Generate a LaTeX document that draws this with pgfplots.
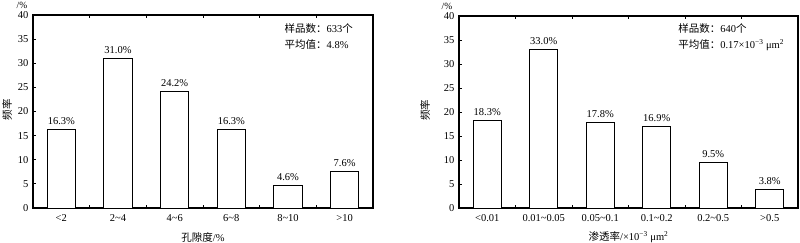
\documentclass[border=0pt]{standalone}
\usepackage{pgfplots}
\pgfplotsset{compat=1.18}
\usepackage{fontspec}
\setmainfont{Liberation Serif}
\newfontfamily\cjk{Noto Sans CJK SC}
\begin{document}
\begin{tikzpicture}[x=1pt,y=1pt]
\useasboundingbox (0,0) rectangle (800,242);
\pgfplotsset{
  hist/.style={
    scale only axis, width=340pt, height=193pt,
    ybar, bar width=0.5, bar shift=0pt,
    xmin=-0.5, xmax=5.5, ymin=0, ymax=40,
    ytick={0,5,...,40},
    xtick={0,...,5}, major x tick style={draw=none},
    minor xtick={0.5,1.5,2.5,3.5,4.5},
    minor tick length=3pt, major tick length=3pt,
    tick align=inside, ytick pos=left,
    axis line style={line width=1.1pt},
    tick style={line width=0.8pt, black},
    /pgf/number format/assume math mode=true,
    tick label style={font=\fontsize{10.5}{12}\selectfont},
    xticklabel style={yshift=-3pt},
    yticklabel style={xshift=-1pt},
    point meta=explicit symbolic,
    nodes near coords={\pgfplotspointmeta},
    every node near coord/.style={font=\fontsize{10.5}{12}\selectfont, black, yshift=1pt},
    clip=false,
  }
}
% Left chart
\begin{axis}[hist, at={(33pt,34pt)}, anchor=south west,
  xticklabels={<2, 2\textasciitilde 4, 4\textasciitilde 6, 6\textasciitilde 8, 8\textasciitilde 10, >10}]
\addplot[draw=black, fill=white, line width=0.9pt] table[meta=lab] {
x y lab
0 16.3 16.3\%
1 31.0 31.0\%
2 24.2 24.2\%
3 16.3 16.3\%
4 4.6 4.6\%
5 7.6 7.6\%
};
\node[anchor=west, font=\fontsize{10.5}{12}\selectfont] at (axis cs:3.88,37.1) {{\cjk 样品数：}633{\cjk 个}};
\node[anchor=west, font=\fontsize{10.5}{12}\selectfont] at (axis cs:3.88,33.8) {{\cjk 平均值：}4.8\%};
\node[rotate=90, font=\cjk\fontsize{10.5}{12}\selectfont] at ([xshift=-26pt]rel axis cs:0,0.51) {频率};
\node[font=\fontsize{9.5}{10}\selectfont] at ([xshift=-11pt,yshift=10pt]rel axis cs:0,1) {/\%};
\node[font=\fontsize{10.5}{12}\selectfont] at ([yshift=-29pt]rel axis cs:0.5,0) {{\cjk 孔隙度}/\%};
\end{axis}
% Right chart
\begin{axis}[hist, at={(459pt,34pt)}, anchor=south west, width=339pt, height=192pt,
  xticklabels={<0.01, 0.01\textasciitilde 0.05, 0.05\textasciitilde 0.1, 0.1\textasciitilde 0.2, 0.2\textasciitilde 0.5, >0.5}]
\addplot[draw=black, fill=white, line width=0.9pt] table[meta=lab] {
x y lab
0 18.3 18.3\%
1 33.0 33.0\%
2 17.8 17.8\%
3 16.9 16.9\%
4 9.5 9.5\%
5 3.8 3.8\%
};
\node[anchor=west, font=\fontsize{10.5}{12}\selectfont] at (axis cs:3.32,37.3) {{\cjk 样品数：}640{\cjk 个}};
\node[anchor=west, font=\fontsize{10.5}{12}\selectfont] at (axis cs:3.32,34.0) {{\cjk 平均值：}0.17×10\textsuperscript{−3} μm\textsuperscript{2}};
\node[rotate=90, font=\cjk\fontsize{10.5}{12}\selectfont] at ([xshift=-34pt]rel axis cs:0,0.51) {频率};
\node[font=\fontsize{9.5}{10}\selectfont] at ([xshift=-12pt,yshift=10pt]rel axis cs:0,1) {/\%};
\node[font=\fontsize{10.5}{12}\selectfont] at ([yshift=-29pt]rel axis cs:0.5,0) {{\cjk 渗透率}/×10\textsuperscript{−3} μm\textsuperscript{2}};
\end{axis}
\end{tikzpicture}
\end{document}
